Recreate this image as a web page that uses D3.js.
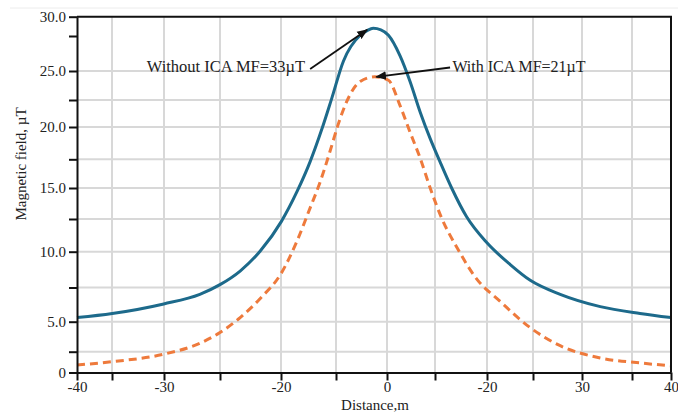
<!DOCTYPE html>
<html>
<head>
<meta charset="utf-8">
<script src="https://cdn.jsdelivr.net/npm/d3@7"></script>
<style>
  body { margin: 0; background: #fff; }
  svg { display: block; font-family: "Liberation Serif", "Times New Roman", serif; }
</style>
</head>
<body>
<svg width="678" height="415"></svg>
<script>
// distance (m) and field (uT)
var withoutDist = [-40, -33.3, -26.7, -22.4, -20, -17.8, -15.6, -13.3, -11.4, -9.8, -8.4, -7.2, -5.7, -3.5, -2.6, -1.8, -0.8, 0.2, 1.8, 3.2, 4.6, 6.0, 7.3, 8.8, 10.7, 13.3, 16.7, 19.6, 23.7, 29.1, 34.7, 40];
var withoutField = [5.3, 5.6, 6.3, 7.0, 7.7, 8.65, 10.05, 12.3, 14.7, 17.3, 19.8, 22.6, 25.7, 27.6, 28.2, 28.5, 28.3, 27.6, 26.1, 24.1, 21.4, 19.1, 17.3, 15.0, 12.7, 10.7, 9.1, 8.0, 7.0, 6.1, 5.6, 5.3];

var withDist = [-40, -33.3, -26.7, -22.4, -20, -17.8, -15.6, -13.3, -11.4, -9.8, -8.6, -7.4, -6.4, -5.3, -3.5, -1.6, 0.2, 1.8, 3.2, 4.6, 6.0, 7.5, 9.5, 12.0, 15.2, 19.6, 23.7, 29.1, 34.7, 40];
var withField = [0.9, 1.3, 2.2, 3.2, 4.1, 5.3, 6.7, 8.5, 10.8, 13.4, 15.5, 18.1, 20.2, 22.3, 24.1, 24.5, 24.2, 22.0, 19.6, 17.6, 15.0, 12.6, 10.3, 8.1, 6.5, 4.5, 3.0, 1.75, 1.15, 0.8];

var xTickValues = d3.range(13).map(function(i) { return -40 + i * 80 / 12; });
var xTickLabels = ["-40", "", "-30", "", "-20", "", "0", "", "-20", "", "30", "", "40"];
var yTickValues = d3.range(13).map(function(i) { return i * 2.5; });
var yTickLabels = ["0", "", "5.0", "", "10.0", "", "15.0", "", "20.0", "", "25.0", "", "30.0"];

var svg = d3.select("svg");

// the original grid is unevenly spaced, so the scales are piecewise
var x = d3.scaleLinear()
    .domain(xTickValues)
    .range([77, 112, 164, 220, 281, 336, 387, 435, 487, 533, 582, 632, 671]);
var y = d3.scaleLinear()
    .domain(yTickValues)
    .range([372.5, 351.7, 321.7, 287.5, 251.7, 219, 188, 159.3, 127, 100, 71, 36, 16.7]);

// faint page rule at the very top
svg.append("line")
    .attr("x1", 10).attr("x2", 678)
    .attr("y1", 8).attr("y2", 8)
    .attr("stroke", "#ececec");

var grid = svg.append("g");
grid.selectAll(".vx")
  .data(xTickValues.slice(1, -1))
  .enter().append("line")
    .attr("x1", function(d) { return x(d); })
    .attr("x2", function(d) { return x(d); })
    .attr("y1", y(0)).attr("y2", y(30))
    .attr("stroke", "#d8d8d8")
    .attr("stroke-width", 2);
grid.selectAll(".hy")
  .data(yTickValues.filter(function(d) { return d > 0 && d < 27; }))
  .enter().append("line")
    .attr("x1", x(-40)).attr("x2", x(40))
    .attr("y1", function(d) { return y(d); })
    .attr("y2", function(d) { return y(d); })
    .attr("stroke", "#d8d8d8")
    .attr("stroke-width", 2);

var line = d3.line()
    .x(function(d) { return x(d[0]); })
    .y(function(d) { return y(d[1]); })
    .curve(d3.curveMonotoneX);

svg.append("path")
    .datum(d3.zip(withoutDist, withoutField))
    .attr("d", line)
    .attr("fill", "none")
    .attr("stroke", "#1d6a8b")
    .attr("stroke-width", 3);

svg.append("path")
    .datum(d3.zip(withDist, withField))
    .attr("d", line)
    .attr("fill", "none")
    .attr("stroke", "#ee7a3c")
    .attr("stroke-width", 3)
    .attr("stroke-dasharray", "8,5");

// frame
svg.append("path")
    .attr("d", "M" + x(-40) + "," + y(30) + "H" + x(40) + "V" + y(0))
    .attr("fill", "none")
    .attr("stroke", "#111")
    .attr("stroke-width", 2);

var xAxis = svg.append("g")
    .attr("transform", "translate(0," + y(0) + ")")
    .call(d3.axisBottom(x)
      .tickValues(xTickValues)
      .tickSize(8)
      .tickSizeOuter(0)
      .tickPadding(1)
      .tickFormat(function(d, i) { return xTickLabels[i]; }));

var yAxis = svg.append("g")
    .attr("transform", "translate(" + x(-40) + ",0)")
    .call(d3.axisLeft(y)
      .tickValues(yTickValues)
      .tickSize(8)
      .tickSizeOuter(0)
      .tickPadding(3)
      .tickFormat(function(d, i) { return yTickLabels[i]; }));

[xAxis, yAxis].forEach(function(g) {
  g.selectAll("path, line").attr("stroke", "#111").attr("stroke-width", 2);
  g.selectAll("text")
    .attr("fill", "#222")
    .style("font-family", "Liberation Serif, serif")
    .style("font-size", "15px");
});

svg.append("text")
    .attr("x", 375).attr("y", 410)
    .attr("text-anchor", "middle")
    .attr("fill", "#222")
    .style("font-size", "15px")
    .text("Distance,m");

svg.append("text")
    .attr("transform", "translate(26,164) rotate(-90)")
    .attr("text-anchor", "middle")
    .attr("fill", "#222")
    .style("font-size", "15px")
    .text("Magnetic field, \u00b5T");

// annotations
svg.append("defs").append("marker")
    .attr("id", "arrow")
    .attr("viewBox", "0 0 10 10")
    .attr("refX", 9).attr("refY", 5)
    .attr("markerWidth", 6).attr("markerHeight", 6)
    .attr("markerUnits", "strokeWidth")
    .attr("orient", "auto")
  .append("path")
    .attr("d", "M0,1L10,5L0,9z")
    .attr("fill", "#111");

var notes = [
  { text: "Without ICA MF=33\u00b5T", tx: -10.4, size: 16.5, anchor: "end", from: [-9.8, 25.15], to: [-2.6, 28.3] },
  { text: "With ICA MF=21\u00b5T", tx: 8.9, size: 16, anchor: "start", from: [8.6, 25.25], to: [-1.4, 24.5] }
];

notes.forEach(function(n) {
  svg.append("line")
      .attr("x1", x(n.from[0])).attr("y1", y(n.from[1]))
      .attr("x2", x(n.to[0])).attr("y2", y(n.to[1]))
      .attr("stroke", "#111")
      .attr("stroke-width", 1.8)
      .attr("marker-end", "url(#arrow)");
  svg.append("text")
      .attr("x", x(n.tx)).attr("y", y(25) + 1)
      .attr("text-anchor", n.anchor)
      .attr("fill", "#222")
      .style("font-size", n.size + "px")
      .text(n.text);
});
</script>
</body>
</html>
